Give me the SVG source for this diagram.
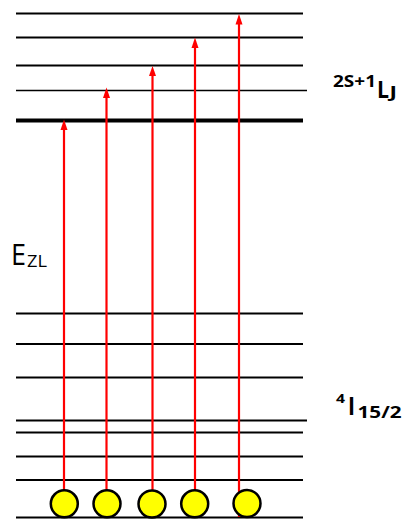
<svg xmlns="http://www.w3.org/2000/svg" width="404" height="519" viewBox="0 0 404 519">
<style>
.lv{stroke:#000;stroke-width:2;fill:none}
.thin{stroke:#000;stroke-width:1.3;fill:none}
.thick{stroke:#000;stroke-width:4;fill:none}
.ar{stroke:#ff0000;stroke-width:2.2;fill:none}
.hd{fill:#ff0000}
.el{fill:#ffff00;stroke:#000;stroke-width:2.5}
.t{font-family:"Open Sans","Liberation Sans",sans-serif;fill:#000}
.b{font-weight:bold}
</style>
<rect width="404" height="519" fill="#fff"/>
<g id="excited-levels">
<line class="lv" x1="16" y1="13.5" x2="303" y2="13.5"/>
<line class="lv" x1="16" y1="37.5" x2="303" y2="37.5"/>
<line class="lv" x1="16" y1="65.5" x2="303" y2="65.5"/>
<line class="thin" x1="16" y1="90.5" x2="307" y2="90.5"/>
<line class="thick" x1="16" y1="120.5" x2="303" y2="120.5"/>
</g>
<g id="ground-levels">
<line class="lv" x1="16" y1="313.5" x2="303" y2="313.5"/>
<line class="lv" x1="16" y1="344" x2="303" y2="344"/>
<line class="lv" x1="16" y1="377.5" x2="303" y2="377.5"/>
<line class="lv" x1="16" y1="420.5" x2="307" y2="420.5"/>
<line class="lv" x1="16" y1="432.5" x2="303" y2="432.5"/>
<line class="lv" x1="16" y1="456.5" x2="303" y2="456.5"/>
<line class="lv" x1="16" y1="480" x2="303" y2="480"/>
<line class="lv" x1="16" y1="517.5" x2="303" y2="517.5"/>
</g>
<g id="connectors">
<line class="ar" x1="64" y1="492" x2="64" y2="128"/>
<polygon class="hd" points="64,119.5 60.5,130 67.5,130"/>
<line class="ar" x1="106.5" y1="492" x2="106.5" y2="96"/>
<polygon class="hd" points="106.5,87.5 103,98 110,98"/>
<line class="ar" x1="152.5" y1="492" x2="152.5" y2="74"/>
<polygon class="hd" points="152.5,66 149,76 156,76"/>
<line class="ar" x1="195" y1="492" x2="195" y2="46"/>
<polygon class="hd" points="195,37.5 191.5,48 198.5,48"/>
<line class="ar" x1="239" y1="517" x2="239" y2="22"/>
<polygon class="hd" points="239,14 235.5,24.5 242.5,24.5"/>
</g>
<g id="electron-1"><circle class="el" cx="64.3" cy="503.8" r="13.5"/></g>
<g id="electron-2"><circle class="el" cx="107" cy="503.8" r="13.5"/></g>
<g id="electron-3"><circle class="el" cx="152" cy="504" r="13.5"/></g>
<g id="electron-4"><circle class="el" cx="194.7" cy="503.8" r="13.5"/></g>
<g id="electron-5"><circle class="el" cx="247" cy="503.5" r="13.5"/></g>
<g id="label-ezl">
<text class="t" x="11" y="264.7" font-size="28.5" textLength="15" lengthAdjust="spacingAndGlyphs">E</text>
<text class="t" x="27" y="267" font-size="16" textLength="20" lengthAdjust="spacingAndGlyphs">ZL</text>
</g>
<g id="label-excited">
<text class="t b" x="333" y="86.5" font-size="16.5" textLength="43" lengthAdjust="spacingAndGlyphs">2S+1</text>
<text class="t b" x="377" y="98" font-size="24" textLength="12" lengthAdjust="spacingAndGlyphs">L</text>
<text class="t b" x="389.5" y="98" font-size="15.5" textLength="7.5" lengthAdjust="spacingAndGlyphs">J</text>
</g>
<g id="label-ground">
<text class="t b" x="336" y="402.5" font-size="13" textLength="9" lengthAdjust="spacingAndGlyphs">4</text>
<text class="t b" x="348" y="415" font-size="25" textLength="7" lengthAdjust="spacingAndGlyphs">I</text>
<text class="t b" x="357.5" y="417.5" font-size="16.5" textLength="44" lengthAdjust="spacingAndGlyphs">15/2</text>
</g>
</svg>
